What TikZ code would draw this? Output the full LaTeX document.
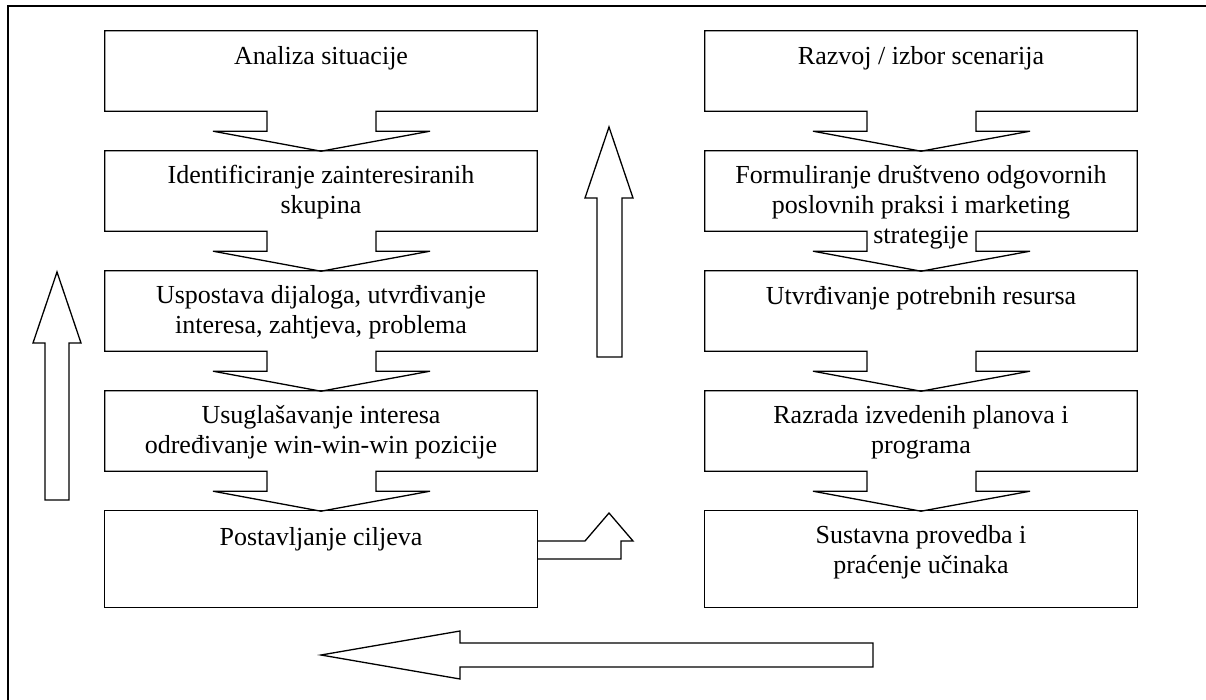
\documentclass[tikz,border=0pt]{standalone}
\usepackage{fontspec}
\setmainfont{Liberation Serif}
\usetikzlibrary{calc}
\tikzset{
  outl/.style={draw=black, line width=1.3pt, line join=miter},
  body/.style={draw=none, minimum width=432pt, minimum height=80pt, inner sep=0pt},
  txt/.style={anchor=north, align=center, inner sep=0pt, font=\fontsize{26}{30}\selectfont,
    execute at begin node={\rule{0pt}{20pt}}},
}
\newcommand{\notchbox}[1]{%
  \draw[outl] (#1.north west) -- (#1.north east) -- (#1.south east)
    -- ($(#1.south)+(55,0)$) -- ++(0,20) -- ++(54,0)
    -- ($(#1.south)+(0,40)$) -- ($(#1.south)+(-108,20)$) -- ++(54,0)
    -- ++(0,-20) -- (#1.south west) -- cycle;}
\begin{document}
\begin{tikzpicture}[x=1pt,y=-1pt]
\useasboundingbox (0,0) rectangle (1206,700);
% frame
\draw[line width=1.6pt] (8,700) -- (8,6) -- (1206,6);
% left column
\node[body] (L1) at (321,71) {};
\node[body] (L2) at (321,191) {};
\node[body] (L3) at (321,311) {};
\node[body] (L4) at (321,431) {};
\node[body, minimum height=96pt] (L5) at (321,559) {};
\notchbox{L1}\notchbox{L2}\notchbox{L3}\notchbox{L4}
\draw[outl] (L5.north west) rectangle (L5.south east);
\node[txt] at ($(L1.north)+(0,14)$) {Analiza situacije};
\node[txt] at ($(L2.north)+(0,14)$) {Identificiranje zainteresiranih\\skupina};
\node[txt] at ($(L3.north)+(0,14)$) {Uspostava dijaloga, utvrđivanje\\interesa, zahtjeva, problema};
\node[txt] at ($(L4.north)+(0,14)$) {Usuglašavanje interesa\\određivanje win-win-win pozicije};
\node[txt] at ($(L5.north)+(0,14)$) {Postavljanje ciljeva};
% right column
\node[body] (R1) at (921,71) {};
\node[body] (R2) at (921,191) {};
\node[body] (R3) at (921,311) {};
\node[body] (R4) at (921,431) {};
\node[body, minimum height=96pt] (R5) at (921,559) {};
\notchbox{R1}\notchbox{R2}\notchbox{R3}\notchbox{R4}
\draw[outl] (R5.north west) rectangle (R5.south east);
\node[txt] at ($(R1.north)+(0,14)$) {Razvoj / izbor scenarija};
\node[txt] at ($(R2.north)+(0,14)$) {Formuliranje društveno odgovornih\\poslovnih praksi i marketing\\strategije};
\node[txt] at ($(R3.north)+(0,14)$) {Utvrđivanje potrebnih resursa};
\node[txt] at ($(R4.north)+(0,14)$) {Razrada izvedenih planova i\\programa};
\node[txt] at ($(R5.north)+(0,14)$) {Sustavna provedba i\\praćenje učinaka};
% left up arrow
\draw[outl] (45,500) -- (45,343) -- (33,343) -- (57,272) -- (81,343) -- (69,343) -- (69,500) -- cycle;
% middle up arrow
\draw[outl] (597,357) -- (597,198) -- (585,198) -- (609,127) -- (633,198) -- (622,198) -- (622,357) -- cycle;
% bent up arrow from L5
\draw[outl] (L5.east |- 0,541) -- (585,541) -- (609,513) -- (633,541) -- (621,541) -- (621,559) -- (L5.east |- 0,559);
% bottom left arrow
\draw[outl] (873,643) -- (460,643) -- (460,631) -- (321,655) -- (460,679) -- (460,667) -- (873,667) -- cycle;
\end{tikzpicture}
\end{document}
